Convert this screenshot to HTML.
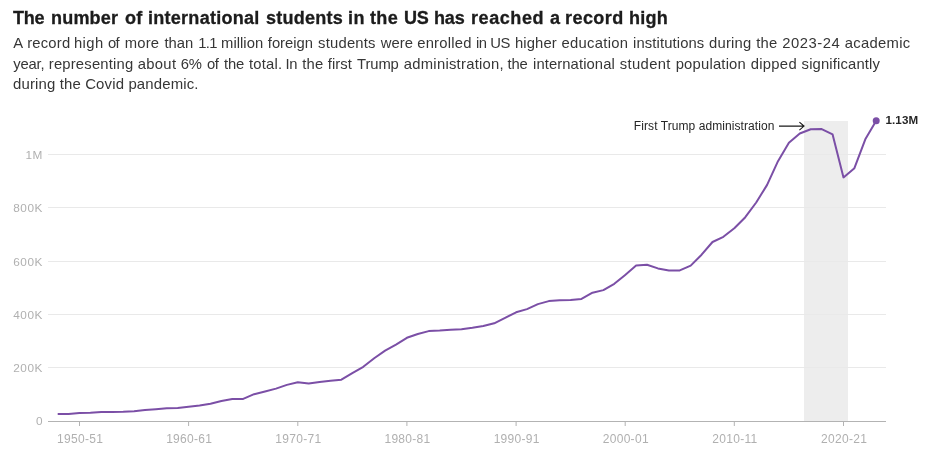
<!DOCTYPE html>
<html><head><meta charset="utf-8"><title>International students</title>
<style>
html,body{margin:0;padding:0;background:#fff;}
body{width:927px;height:455px;overflow:hidden;position:relative;font-family:"Liberation Sans",Arial,sans-serif;}
h1{position:absolute;left:0;top:7px;width:927px;height:22px;margin:0;font-size:17.6px;line-height:22px;font-weight:700;color:#1c1c1c;white-space:nowrap;will-change:transform;}
h1 .w{transform-origin:0 0;transform:scaleX(1.025);-webkit-text-stroke:0.3px #1c1c1c;}
.sub{position:absolute;left:0;width:927px;height:21px;margin:0;font-size:14.8px;line-height:21px;color:#363636;white-space:nowrap;transform-origin:0 0;will-change:transform;}
.w{position:absolute;top:0;left:0;white-space:pre;}
svg{position:absolute;left:0;top:0;}
.ax{font-size:12px;fill:#b0b0b0;font-family:"Liberation Sans",Arial,sans-serif;letter-spacing:0.3px;}
.ay{font-size:11.8px;letter-spacing:0.55px;}
.an{font-size:12px;fill:#262626;font-family:"Liberation Sans",Arial,sans-serif;}
.end{font-size:11.6px;letter-spacing:0.1px;font-weight:700;fill:#262626;font-family:"Liberation Sans",Arial,sans-serif;}
</style></head><body>
<h1 id="t"><span class="w" style="left:13.2px;letter-spacing:-0.28px">The </span><span class="w" style="left:50.8px;letter-spacing:0.18px">number </span><span class="w" style="left:125.1px;letter-spacing:0.33px">of </span><span class="w" style="left:147.7px;letter-spacing:0.25px">international </span><span class="w" style="left:265.5px;letter-spacing:0.24px">students </span><span class="w" style="left:348.0px;letter-spacing:0.45px">in </span><span class="w" style="left:370.1px;letter-spacing:0.31px">the </span><span class="w" style="left:404.3px;letter-spacing:-0.30px">US </span><span class="w" style="left:434.3px;letter-spacing:-0.18px">has </span><span class="w" style="left:471.0px;letter-spacing:0.54px">reached </span><span class="w" style="left:549.6px;letter-spacing:0.00px">a </span><span class="w" style="left:565.1px;letter-spacing:0.42px">record </span><span class="w" style="left:628.7px;letter-spacing:0.27px">high </span></h1>
<p class="sub" style="top:33px"><span class="w" style="left:13.2px;letter-spacing:0.00px">A </span><span class="w" style="left:27.2px;letter-spacing:0.20px">record </span><span class="w" style="left:73.9px;letter-spacing:0.48px">high </span><span class="w" style="left:107.9px;letter-spacing:-0.60px">of </span><span class="w" style="left:124.8px;letter-spacing:0.17px">more </span><span class="w" style="left:164.4px;letter-spacing:0.04px">than </span><span class="w" style="left:198.2px;letter-spacing:-0.60px">1.1 </span><span class="w" style="left:221.1px;letter-spacing:0.02px">million </span><span class="w" style="left:267.8px;letter-spacing:-0.02px">foreign </span><span class="w" style="left:318.1px;letter-spacing:0.21px">students </span><span class="w" style="left:380.8px;letter-spacing:0.02px">were </span><span class="w" style="left:417.2px;letter-spacing:0.23px">enrolled </span><span class="w" style="left:476.0px;letter-spacing:-0.60px">in </span><span class="w" style="left:490.3px;letter-spacing:-0.39px">US </span><span class="w" style="left:514.9px;letter-spacing:0.14px">higher </span><span class="w" style="left:561.6px;letter-spacing:0.28px">education </span><span class="w" style="left:633.0px;letter-spacing:0.12px">institutions </span><span class="w" style="left:709.1px;letter-spacing:0.18px">during </span><span class="w" style="left:756.3px;letter-spacing:0.18px">the </span><span class="w" style="left:782.2px;letter-spacing:0.54px">2023-24 </span><span class="w" style="left:844.7px;letter-spacing:0.30px">academic </span></p>
<p class="sub" style="top:54px"><span class="w" style="left:13.2px;letter-spacing:-0.14px">year, </span><span class="w" style="left:48.8px;letter-spacing:0.19px">representing </span><span class="w" style="left:137.7px;letter-spacing:0.32px">about </span><span class="w" style="left:180.8px;letter-spacing:-0.23px">6% </span><span class="w" style="left:207.0px;letter-spacing:-0.60px">of </span><span class="w" style="left:224.1px;letter-spacing:-0.17px">the </span><span class="w" style="left:248.9px;letter-spacing:0.23px">total. </span><span class="w" style="left:285.6px;letter-spacing:-0.51px">In </span><span class="w" style="left:302.3px;letter-spacing:0.18px">the </span><span class="w" style="left:327.8px;letter-spacing:0.07px">first </span><span class="w" style="left:357.0px;letter-spacing:-0.09px">Trump </span><span class="w" style="left:403.8px;letter-spacing:0.26px">administration, </span><span class="w" style="left:507.5px;letter-spacing:-0.17px">the </span><span class="w" style="left:533.0px;letter-spacing:0.10px">international </span><span class="w" style="left:619.8px;letter-spacing:0.35px">student </span><span class="w" style="left:675.7px;letter-spacing:0.20px">population </span><span class="w" style="left:750.7px;letter-spacing:0.30px">dipped </span><span class="w" style="left:801.6px;letter-spacing:0.15px">significantly </span></p>
<p class="sub" id="s3" style="top:74px;left:13px;width:auto;transform:scaleX(1.01);letter-spacing:0.14px;">during the Covid pandemic.</p>
<svg width="927" height="455" viewBox="0 0 927 455">
<rect x="804" y="121" width="44" height="300.5" fill="#ededed"/>
<line x1="48" x2="886" y1="154.5" y2="154.5" stroke="#e9e9e9" stroke-width="1"/>
<text x="43" y="158.7" text-anchor="end" class="ax ay">1M</text>
<line x1="48" x2="886" y1="207.5" y2="207.5" stroke="#e9e9e9" stroke-width="1"/>
<text x="43" y="211.7" text-anchor="end" class="ax ay">800K</text>
<line x1="48" x2="886" y1="261.5" y2="261.5" stroke="#e9e9e9" stroke-width="1"/>
<text x="43" y="265.7" text-anchor="end" class="ax ay">600K</text>
<line x1="48" x2="886" y1="314.5" y2="314.5" stroke="#e9e9e9" stroke-width="1"/>
<text x="43" y="318.7" text-anchor="end" class="ax ay">400K</text>
<line x1="48" x2="886" y1="367.5" y2="367.5" stroke="#e9e9e9" stroke-width="1"/>
<text x="43" y="371.7" text-anchor="end" class="ax ay">200K</text>
<text x="43" y="425.0" text-anchor="end" class="ax ay">0</text>

<line x1="48" x2="886" y1="421.5" y2="421.5" stroke="#b3b3b3" stroke-width="1"/>
<line x1="79.5" x2="79.5" y1="421.5" y2="426" stroke="#b3b3b3" stroke-width="1"/>
<text x="80.1" y="442.8" text-anchor="middle" class="ax">1950-51</text>
<line x1="188.6" x2="188.6" y1="421.5" y2="426" stroke="#b3b3b3" stroke-width="1"/>
<text x="189.2" y="442.8" text-anchor="middle" class="ax">1960-61</text>
<line x1="297.8" x2="297.8" y1="421.5" y2="426" stroke="#b3b3b3" stroke-width="1"/>
<text x="298.4" y="442.8" text-anchor="middle" class="ax">1970-71</text>
<line x1="406.9" x2="406.9" y1="421.5" y2="426" stroke="#b3b3b3" stroke-width="1"/>
<text x="407.5" y="442.8" text-anchor="middle" class="ax">1980-81</text>
<line x1="516.1" x2="516.1" y1="421.5" y2="426" stroke="#b3b3b3" stroke-width="1"/>
<text x="516.7" y="442.8" text-anchor="middle" class="ax">1990-91</text>
<line x1="625.2" x2="625.2" y1="421.5" y2="426" stroke="#b3b3b3" stroke-width="1"/>
<text x="625.8" y="442.8" text-anchor="middle" class="ax">2000-01</text>
<line x1="734.3" x2="734.3" y1="421.5" y2="426" stroke="#b3b3b3" stroke-width="1"/>
<text x="734.9" y="442.8" text-anchor="middle" class="ax">2010-11</text>
<line x1="843.5" x2="843.5" y1="421.5" y2="426" stroke="#b3b3b3" stroke-width="1"/>
<text x="844.1" y="442.8" text-anchor="middle" class="ax">2020-21</text>

<path d="M57.7,414.1 L68.6,413.9 L79.5,413.0 L90.4,412.8 L101.3,411.9 L112.2,411.9 L123.2,411.8 L134.1,411.2 L145.0,410.1 L155.9,409.3 L166.8,408.3 L177.7,408.0 L188.6,406.8 L199.6,405.4 L210.5,403.7 L221.4,401.0 L232.3,399.0 L243.2,398.9 L254.1,394.2 L265.0,391.5 L276.0,388.6 L286.9,384.9 L297.8,382.3 L308.7,383.6 L319.6,382.0 L330.5,380.7 L341.4,379.7 L352.3,373.1 L363.3,366.8 L374.2,358.2 L385.1,350.6 L396.0,344.6 L406.9,337.8 L417.8,334.0 L428.7,331.1 L439.7,330.6 L450.6,329.8 L461.5,329.3 L472.4,327.8 L483.3,326.0 L494.2,323.3 L505.1,317.8 L516.1,312.3 L527.0,309.1 L537.9,304.1 L548.8,301.1 L559.7,300.3 L570.6,300.0 L581.5,298.9 L592.5,292.7 L603.4,290.1 L614.3,283.8 L625.2,274.9 L636.1,265.6 L647.0,264.7 L657.9,268.4 L668.9,270.4 L679.8,270.4 L690.7,265.6 L701.6,254.7 L712.5,242.0 L723.4,236.8 L734.3,228.2 L745.3,217.2 L756.2,202.5 L767.1,184.9 L778.0,161.2 L788.9,142.8 L799.8,133.5 L810.7,129.2 L821.7,129.1 L832.6,134.4 L843.5,177.4 L854.4,168.2 L865.3,139.3 L876.2,120.7" fill="none" stroke="#7b4fa6" stroke-width="2" stroke-linejoin="round" stroke-linecap="butt"/>
<circle cx="876.2" cy="120.7" r="3.5" fill="#7b4fa6"/>
<text x="885.5" y="124" class="end" id="endl">1.13M</text>
<text x="774.4" y="130.4" text-anchor="end" class="an" id="anl" style="letter-spacing:0.07px">First Trump administration</text>
<path d="M779,126.1 H804 M799.4,122.1 L804,126.1 L799.4,130.1" fill="none" stroke="#1a1a1a" stroke-width="1.15"/>
</svg>
</body></html>
